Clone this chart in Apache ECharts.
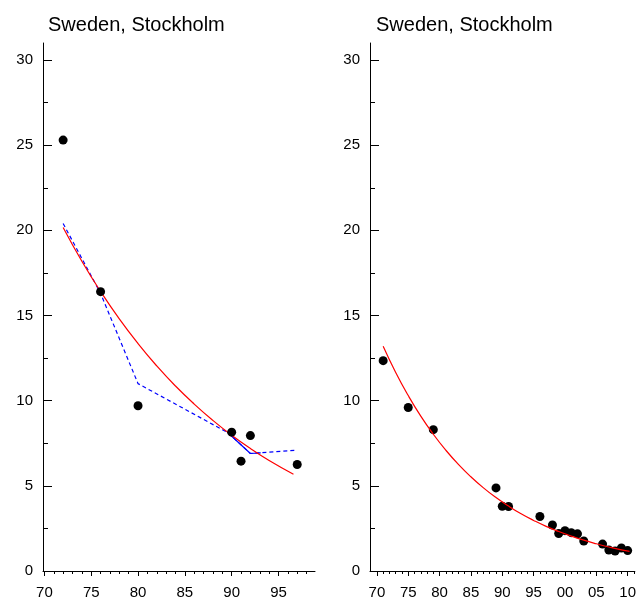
<!DOCTYPE html>
<html><head><meta charset="utf-8">
<script src="https://cdn.jsdelivr.net/npm/echarts@6/dist/echarts.min.js"></script>
<style>html,body{margin:0;padding:0;background:#fff}#c{width:639px;height:600px}</style>
</head><body><div id="c"></div>
<script>
const titleText = 'Sweden, Stockholm';
// left panel
const leftYears = [72, 76, 80, 90, 91, 92, 97];
const leftValues = [25.3, 16.4, 9.7, 8.15, 6.45, 7.95, 6.25];
const leftFitYears = [72, 74, 76, 78, 80, 82, 84, 86, 88, 90, 92, 94, 96.6];
const leftFitValues = [20.17, 18.19, 16.41, 14.80, 13.35, 12.04, 10.86, 9.80, 8.84, 7.97, 7.19, 6.49, 5.68];
const leftTrendYears = [72, 76, 80, 89.6, 92, 93.1, 97];
const leftTrendValues = [20.4, 16.3, 11.0, 8.12, 6.9, 6.94, 7.1];
const leftTrendSolidYears = [89.6, 92, 93.1];
const leftTrendSolidValues = [8.12, 6.9, 6.94];
const leftXLabels = [70, 75, 80, 85, 90, 95];
const leftXTicks = [71,72,73,74,76,77,78,79,81,82,83,84,86,87,88,89,91,92,93,94,96,97,98];
// right panel
const rightYears = [1971, 1975, 1979, 1989, 1990, 1991, 1996, 1998, 1999, 2000, 2001, 2002, 2003, 2006, 2007, 2008, 2009, 2010];
const rightValues = [12.35, 9.6, 8.3, 4.88, 3.8, 3.79, 3.2, 2.7, 2.2, 2.37, 2.25, 2.18, 1.76, 1.58, 1.23, 1.17, 1.35, 1.2];
const rightFitYears = [1971, 1973, 1975, 1977, 1979, 1981, 1983, 1985, 1987, 1989, 1991, 1993, 1995, 1997, 1999, 2001, 2003, 2005, 2007, 2009, 2010.3];
const rightFitValues = [13.2, 11.66, 10.3, 9.09, 8.03, 7.09, 6.26, 5.53, 4.88, 4.31, 3.81, 3.36, 2.97, 2.62, 2.32, 2.05, 1.81, 1.60, 1.41, 1.24, 1.15];
const rightXLabels = [1970, 1975, 1980, 1985, 1990, 1995, 2000, 2005, 2010];
const rightXTicks = [1971,1972,1973,1974,1976,1977,1978,1979,1981,1982,1983,1984,1986,1987,1988,1989,1991,1992,1993,1994,1996,1997,1998,1999,2001,2002,2003,2004,2006,2007,2008,2009,2011];
// y axis
const yLabels = [0, 5, 10, 15, 20, 25, 30];
const yMinorTicks = [2.5, 7.5, 12.5, 17.5, 22.5, 27.5];

const zip = (a, b) => a.map((v, i) => [v, b[i]]);
const FONT = 'Liberation Sans, Arial, sans-serif';
const lbl = {color: '#000', fontSize: 15, fontFamily: FONT};
const black = {lineStyle: {color: '#000', width: 1}};

function xAxes(grid, min, max, majors, minors, fmt) {
  return [
    {type: 'value', gridIndex: grid, position: 'bottom', min, max, splitLine: {show: false},
     axisLine: {show: true, onZero: false, ...black},
     axisTick: {show: true, length: 3, customValues: minors, ...black},
     axisLabel: {...lbl, margin: 14, customValues: majors, formatter: fmt}},
    {type: 'value', gridIndex: grid, position: 'bottom', offset: 0, min, max, splitLine: {show: false},
     axisLine: {show: false, onZero: false},
     axisTick: {show: true, length: 5, customValues: majors, ...black},
     axisLabel: {show: false}}
  ];
}
function yAxes(grid) {
  return [
    {type: 'value', gridIndex: grid, position: 'left', min: 0, max: 31, splitLine: {show: false},
     axisLine: {show: true, onZero: false, ...black},
     axisTick: {show: true, inside: true, length: 9, customValues: yLabels, ...black},
     axisLabel: {...lbl, margin: 10, customValues: yLabels}},
    {type: 'value', gridIndex: grid, position: 'left', offset: 0, min: 0, max: 31, splitLine: {show: false},
     axisLine: {show: false, onZero: false},
     axisTick: {show: true, inside: true, length: 5, customValues: yMinorTicks, ...black},
     axisLabel: {show: false}}
  ];
}
const pad2 = v => String(Math.round(v) % 100).padStart(2, '0');

const chart = echarts.init(document.getElementById('c'), null, {renderer: 'canvas'});
const dot = {type: 'scatter', symbol: 'circle', symbolSize: 9, itemStyle: {color: '#000', opacity: 1}, z: 5};
chart.setOption({
  animation: false,
  backgroundColor: '#fff',
  title: [
    {text: titleText, left: 48, top: 15, padding: 0, textStyle: {fontFamily: FONT, fontSize: 20, fontWeight: 'normal', color: '#000'}},
    {text: titleText, left: 376, top: 15, padding: 0, textStyle: {fontFamily: FONT, fontSize: 20, fontWeight: 'normal', color: '#000'}}
  ],
  grid: [
    {left: 43, top: 43, width: 272, height: 529},
    {left: 370, top: 43, width: 267, height: 529}
  ],
  xAxis: [
    ...xAxes(0, 69.85, 98.9, leftXLabels, leftXTicks, v => String(v)),
    ...xAxes(1, 1968.9, 2011.15, rightXLabels, rightXTicks, pad2)
  ],
  yAxis: [...yAxes(0), ...yAxes(1)],
  series: [
    {type: 'line', xAxisIndex: 0, yAxisIndex: 0, data: zip(leftTrendYears, leftTrendValues), symbol: 'none',
     lineStyle: {color: '#0000ff', width: 1.2, type: [4, 3]}},
    {type: 'line', xAxisIndex: 0, yAxisIndex: 0, data: zip(leftTrendSolidYears, leftTrendSolidValues), symbol: 'none',
     lineStyle: {color: '#0000ff', width: 1.2}},
    {type: 'line', xAxisIndex: 0, yAxisIndex: 0, data: zip(leftFitYears, leftFitValues), symbol: 'none', smooth: true,
     lineStyle: {color: '#ff0000', width: 1.2}},
    {...dot, xAxisIndex: 0, yAxisIndex: 0, data: zip(leftYears, leftValues)},
    {type: 'line', xAxisIndex: 2, yAxisIndex: 2, data: zip(rightFitYears, rightFitValues), symbol: 'none', smooth: true,
     lineStyle: {color: '#ff0000', width: 1.2}, z: 6},
    {...dot, xAxisIndex: 2, yAxisIndex: 2, data: zip(rightYears, rightValues)}
  ]
});
</script></body></html>
